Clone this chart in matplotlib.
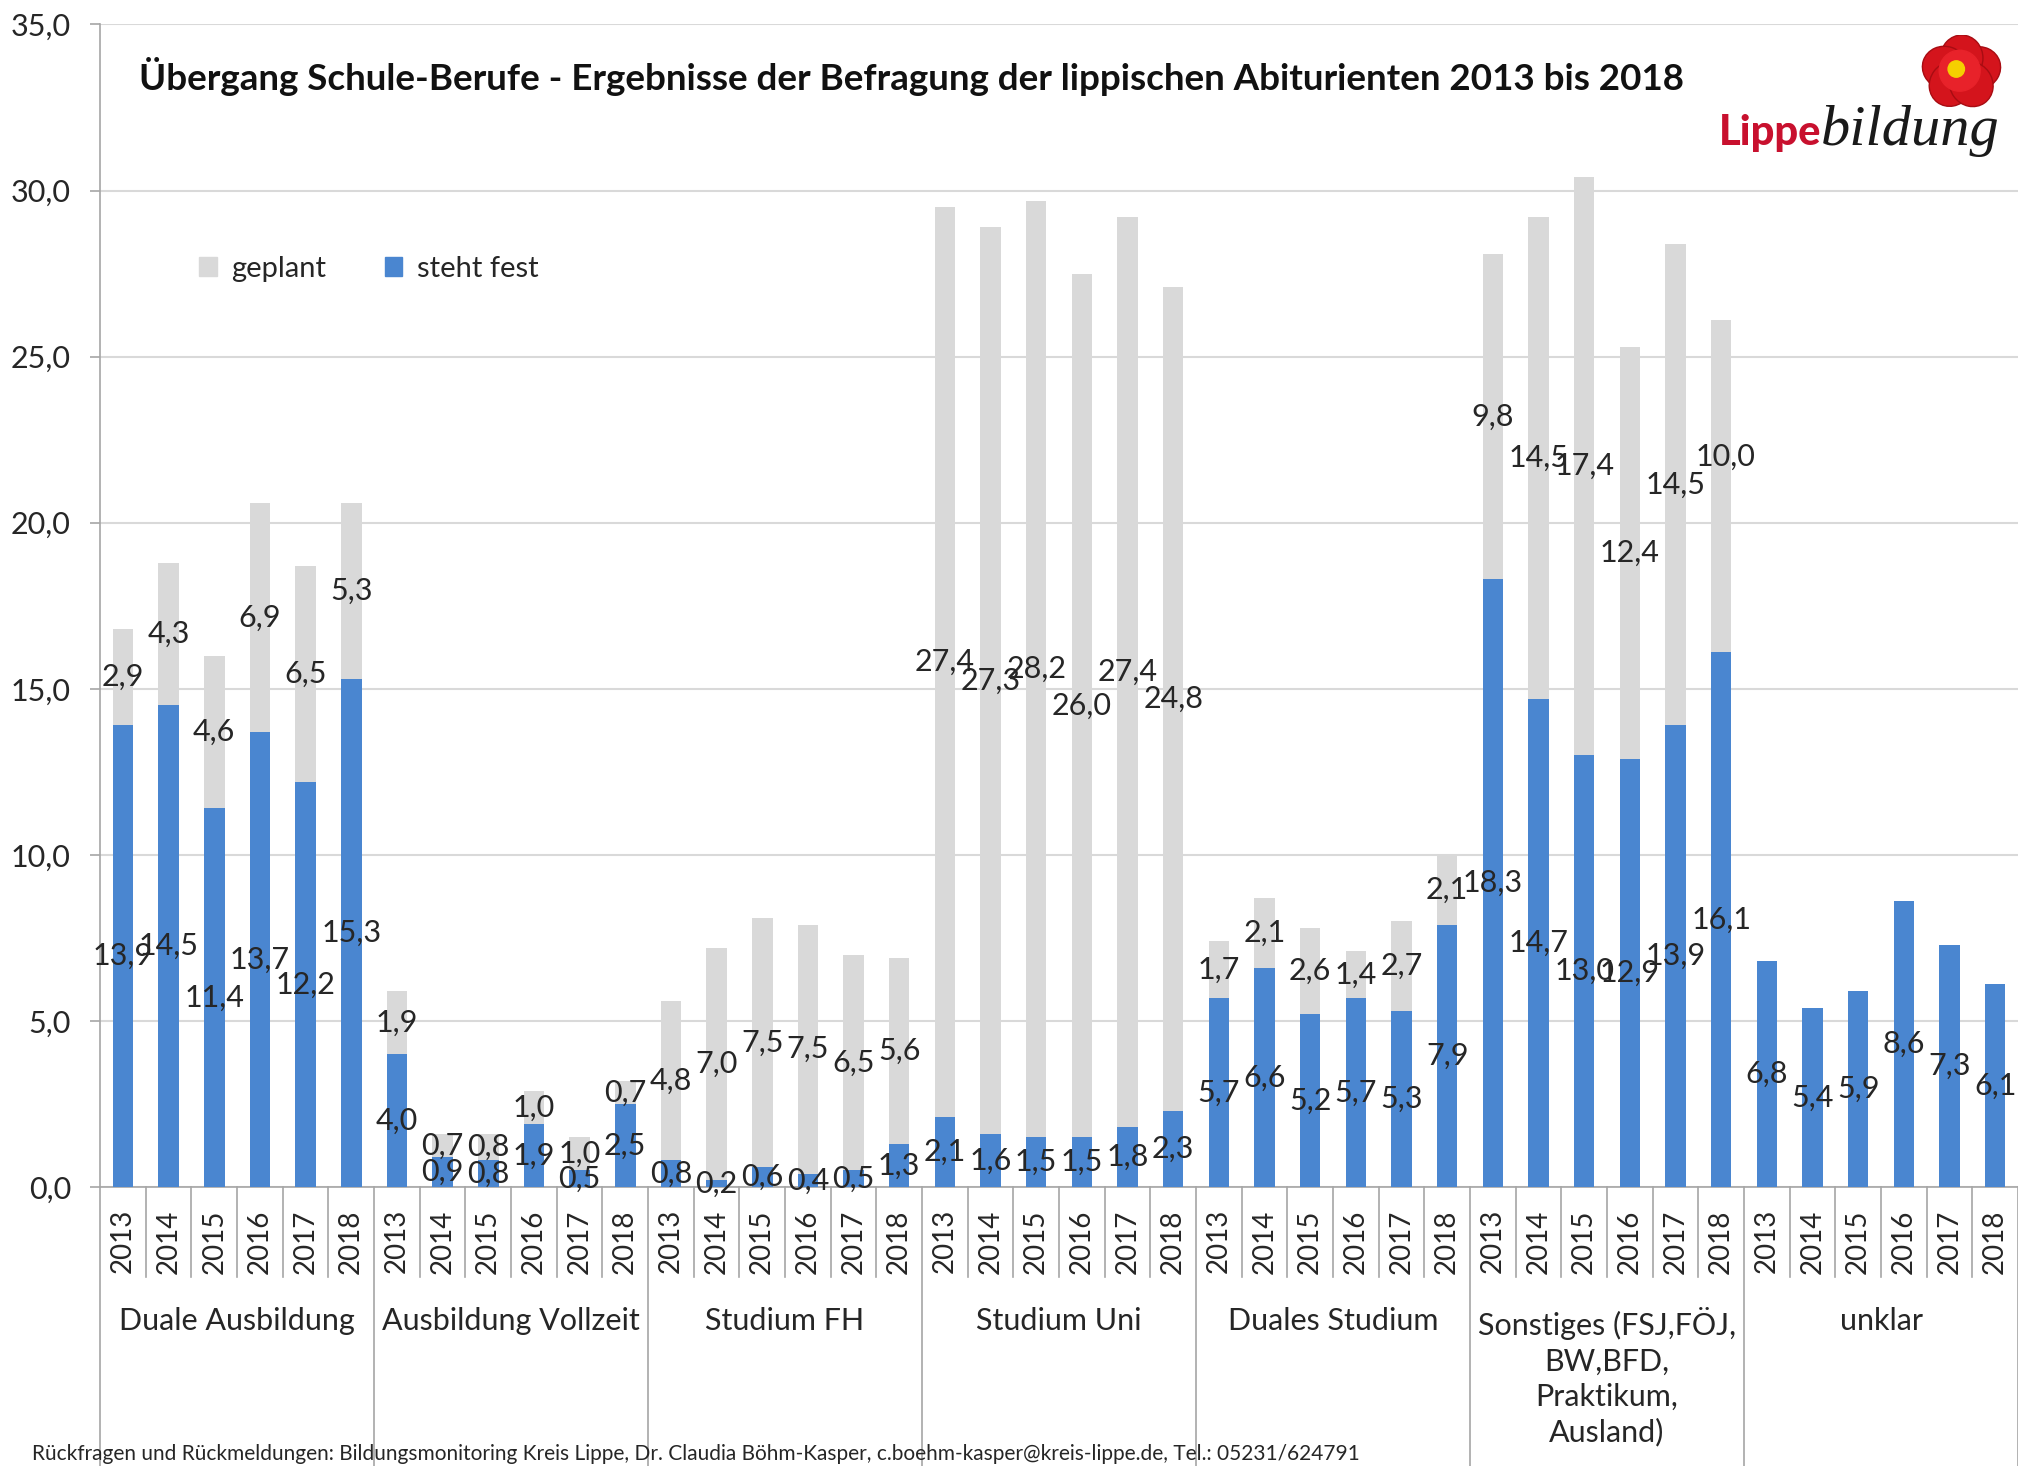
import matplotlib
matplotlib.use("Agg")
import matplotlib.pyplot as plt
import matplotlib.transforms as mtransforms
from matplotlib.patches import Circle, Ellipse, Patch
import numpy as np

plt.rcParams['font.family'] = ['Lato', 'DejaVu Sans']

# ---------------- data ----------------
groups = ["Duale Ausbildung", "Ausbildung Vollzeit", "Studium FH", "Studium Uni",
          "Duales Studium", "Sonstiges (FSJ,FÖJ,\nBW,BFD,\nPraktikum,\nAusland)", "unklar"]
years = ["2013", "2014", "2015", "2016", "2017", "2018"]

steht_fest_duale = [13.9, 14.5, 11.4, 13.7, 12.2, 15.3]
steht_fest_vollzeit = [4.0, 0.9, 0.8, 1.9, 0.5, 2.5]
steht_fest_fh = [0.8, 0.2, 0.6, 0.4, 0.5, 1.3]
steht_fest_uni = [2.1, 1.6, 1.5, 1.5, 1.8, 2.3]
steht_fest_dual_stud = [5.7, 6.6, 5.2, 5.7, 5.3, 7.9]
steht_fest_sonst = [18.3, 14.7, 13.0, 12.9, 13.9, 16.1]
steht_fest_unklar = [6.8, 5.4, 5.9, 8.6, 7.3, 6.1]

geplant_duale = [2.9, 4.3, 4.6, 6.9, 6.5, 5.3]
geplant_vollzeit = [1.9, 0.7, 0.8, 1.0, 1.0, 0.7]
geplant_fh = [4.8, 7.0, 7.5, 7.5, 6.5, 5.6]
geplant_uni = [27.4, 27.3, 28.2, 26.0, 27.4, 24.8]
geplant_dual_stud = [1.7, 2.1, 2.6, 1.4, 2.7, 2.1]
geplant_sonst = [9.8, 14.5, 17.4, 12.4, 14.5, 10.0]
geplant_unklar = [0, 0, 0, 0, 0, 0]

steht_fest = (steht_fest_duale + steht_fest_vollzeit + steht_fest_fh + steht_fest_uni
              + steht_fest_dual_stud + steht_fest_sonst + steht_fest_unklar)
geplant = (geplant_duale + geplant_vollzeit + geplant_fh + geplant_uni
           + geplant_dual_stud + geplant_sonst + geplant_unklar)

title = "Übergang Schule-Berufe - Ergebnisse der Befragung der lippischen Abiturienten 2013 bis 2018"
footer = ("Rückfragen und Rückmeldungen: Bildungsmonitoring Kreis Lippe, Dr. Claudia Böhm-Kasper, "
          "c.boehm-kasper@kreis-lippe.de, Tel.: 05231/624791")

BLUE = "#4a86d0"
GRAY = "#d9d9d9"
TXT = "#262626"

def fmt(v):
    return f"{v:.1f}".replace(".", ",")

# ---------------- figure ----------------
fig = plt.figure(figsize=(20.18, 14.66), dpi=100)
ax = fig.add_axes([0.0496, 0.1903, 0.9504, 0.7930])

n_per = len(years)
x = np.arange(len(steht_fest))
bw = 0.45
b1 = ax.bar(x, steht_fest, bw, color=BLUE, label="steht fest", zorder=3)
b2 = ax.bar(x, geplant, bw, bottom=steht_fest, color=GRAY, label="geplant", zorder=3)

ax.bar_label(b1, labels=[fmt(v) for v in steht_fest], label_type='center',
             fontsize=22, color=TXT, zorder=4)
lab2 = ax.bar_label(b2, labels=[fmt(v) if v > 0 else "" for v in geplant], label_type='center',
                    fontsize=22, color=TXT, zorder=4)
# the reference lifts the last "Sonstiges" label slightly
lab2[5 * n_per + 5].xyann = (3, 21)

ax.set_xlim(-0.5, len(x) - 0.5)
ax.set_ylim(0, 35)
ax.set_yticks(np.arange(0, 35.1, 5))
ax.set_yticklabels([fmt(v) for v in np.arange(0, 35.1, 5)], fontsize=22, color=TXT)
ax.yaxis.grid(True, color="#d9d9d9", lw=1.5, zorder=0)
ax.tick_params(axis='y', length=7, color="#a6a6a6", width=1.2, pad=14)

ax.set_xticks(x)
ax.set_xticklabels(years * len(groups), rotation=90, fontsize=20, color=TXT)
ax.tick_params(axis='x', length=0, pad=16)

for s in ["top", "right"]:
    ax.spines[s].set_visible(False)
ax.spines["left"].set_color("#a6a6a6")
ax.spines["bottom"].set_color("#a6a6a6")
ax.spines["left"].set_linewidth(1.2)
ax.spines["bottom"].set_linewidth(1.2)

# separators below the axis
trans = mtransforms.blended_transform_factory(ax.transData, ax.transAxes)
transf = mtransforms.blended_transform_factory(ax.transData, fig.transFigure)
for i in range(len(x) + 1):
    b = i - 0.5
    if i % n_per == 0:
        ax.plot([b, b], [0, -0.26], transform=trans, color="#a6a6a6", lw=1.2, clip_on=False)
    else:
        ax.plot([b, b], [0, -0.0774], transform=trans, color="#a6a6a6", lw=1.2, clip_on=False)

for gi, g in enumerate(groups):
    cx = gi * n_per + (n_per - 1) / 2
    ax.text(cx, 0.1085, g, transform=transf, ha='center', va='top', fontsize=22,
            color=TXT, linespacing=1.32)

# legend
handles = [Patch(color=GRAY, label="geplant"), Patch(color=BLUE, label="steht fest")]
ax.legend(handles=handles, loc='center left', bbox_to_anchor=(0.038, 0.79), ncol=2,
          frameon=False, fontsize=21, handlelength=0.6, handleheight=0.6,
          handletextpad=0.5, columnspacing=2.0, labelcolor=TXT)

# title
fig.text(0.0689, 0.9475, title, ha='left', va='center', fontsize=26.5, fontweight='bold',
         color="#111111")

# logo text
fig.text(0.9025, 0.9011, "Lippe", ha='right', va='baseline', fontsize=30,
         fontweight='black', color="#c8102e")
fig.text(0.9025, 0.9011, "bildung", ha='left', va='baseline', fontsize=42,
         style='italic', family='Liberation Serif', color="#1a1a1a")

# logo flower
lax = fig.add_axes([0.9504, 0.9250, 0.0431, 0.0512])
lax.set_aspect('equal')
lax.set_xlim(-1.2, 1.2)
lax.set_ylim(-1.1, 1.1)
lax.axis('off')
for ang in np.linspace(0, 2 * np.pi, 6)[:-1] + 0.3:
    lax.add_patch(Ellipse((0.5 * np.cos(ang), 0.42 * np.sin(ang)), 1.35, 1.25,
                          angle=np.degrees(ang), color="#d4141c", ec="#a80c12", lw=1))
lax.add_patch(Circle((-0.05, 0.05), 0.6, color="#e8222a"))
lax.add_patch(Circle((-0.15, 0.1), 0.24, color="#f5d000"))

# footer
fig.text(0.0159, 0.0082, footer, ha='left', va='center', fontsize=15, color=TXT)

fig.savefig("out.png", dpi=100, facecolor="white")
